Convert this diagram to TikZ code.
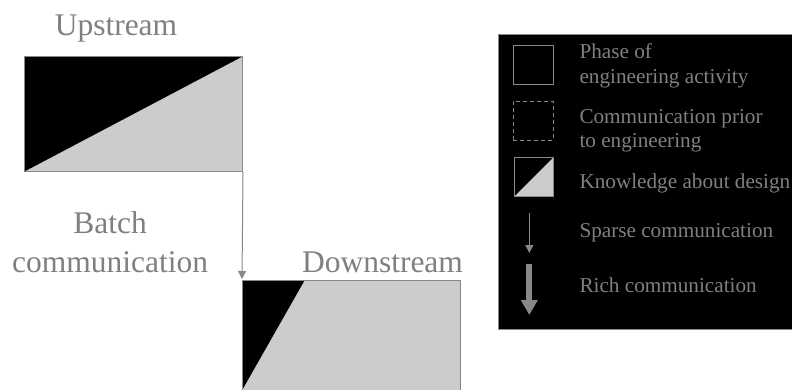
\documentclass[tikz,border=0pt]{standalone}
\usepackage{fontspec}
\setmainfont{Liberation Serif}
\usetikzlibrary{arrows.meta}
\definecolor{txtgray}{HTML}{808080}
\definecolor{lngray}{HTML}{888888}
\definecolor{lightfill}{HTML}{CCCCCC}
\tikzset{
  big/.style={font=\fontsize{31.5}{36}\selectfont, text=txtgray, inner sep=0pt, anchor=base},
  leg/.style={font=\fontsize{21.2}{25}\selectfont, text=txtgray, inner sep=0pt, anchor=base west},
  phasebox/.style={draw=lngray, line width=1pt, inner sep=0pt},
  upfill/.style={path picture={
     \fill[lightfill] (path picture bounding box.north east) -- (path picture bounding box.south east) -- (path picture bounding box.south west) -- cycle;
     \fill[black] (path picture bounding box.north west) -- (path picture bounding box.north east) -- (path picture bounding box.south west) -- cycle;}},
  sparse/.style={draw=lngray, line width=1pt, -{Triangle[width=8pt,length=8pt]}},
  rich/.style={draw=lngray, line width=6pt, -{Triangle[width=16pt,length=15pt]}},
}
\begin{document}
\begin{tikzpicture}[x=1pt,y=-1pt]
\useasboundingbox (0,0) rectangle (792,389);
\clip (0,0) rectangle (792,389);
\fill[white] (0,0) rectangle (792,389);
% Upstream
\node[phasebox, upfill, minimum width=218pt, minimum height=115pt, anchor=north west] (up) at (24,56) {};
\node[big] (uplabel) at (116,35) {Upstream};
% Downstream
\node[phasebox, minimum width=218pt, minimum height=120pt, anchor=north west,
  path picture={
    \fill[lightfill] (path picture bounding box.north west) rectangle (path picture bounding box.south east);
    \fill[black] (path picture bounding box.north west) -- ++(62,0) -- ++(-62,109) -- cycle;}] (down) at (242,280) {};
\node[big] (downlabel) at (382.5,272) {Downstream};
% Batch communication
\node[big] (batch1) at (110,233) {Batch};
\node[big] (batch2) at (110,272) {communication};
\coordinate (arrend) at (242,279);
\draw[sparse] (up.south east) -- (arrend);
% Legend
\node[draw=lngray, line width=1pt, fill=black, inner sep=0pt, minimum width=310pt, minimum height=294.5pt, anchor=north west] (legend) at (497.5,34) {};
\node[phasebox, minimum width=40pt, minimum height=39pt] (lphase) at (533.3,64.8) {};
\node[phasebox, dashed, dash pattern=on 4pt off 3pt, minimum width=40pt, minimum height=39pt] (lprior) at (533.3,120.5) {};
\node[phasebox, upfill, minimum width=39pt, minimum height=39pt] (lknow) at (533.5,177) {};
\coordinate (sps) at (529.3,213);
\coordinate (spe) at (529.3,253);
\draw[sparse] (sps) -- (spe);
\coordinate (rcs) at (529.3,264);
\coordinate (rce) at (529.3,315);
\draw[rich] (rcs) -- (rce);
\node[leg] (t1a) at (579.3,58) {Phase of};
\node[leg] (t1b) at (579.3,83) {engineering activity};
\node[leg] (t2a) at (579.3,123) {Communication prior};
\node[leg] (t2b) at (579.3,147.5) {to engineering};
\node[leg] (t3) at (579.3,188) {Knowledge about design};
\node[leg] (t4) at (579.3,237) {Sparse communication};
\node[leg] (t5) at (579.3,292) {Rich communication};
\end{tikzpicture}
\end{document}
